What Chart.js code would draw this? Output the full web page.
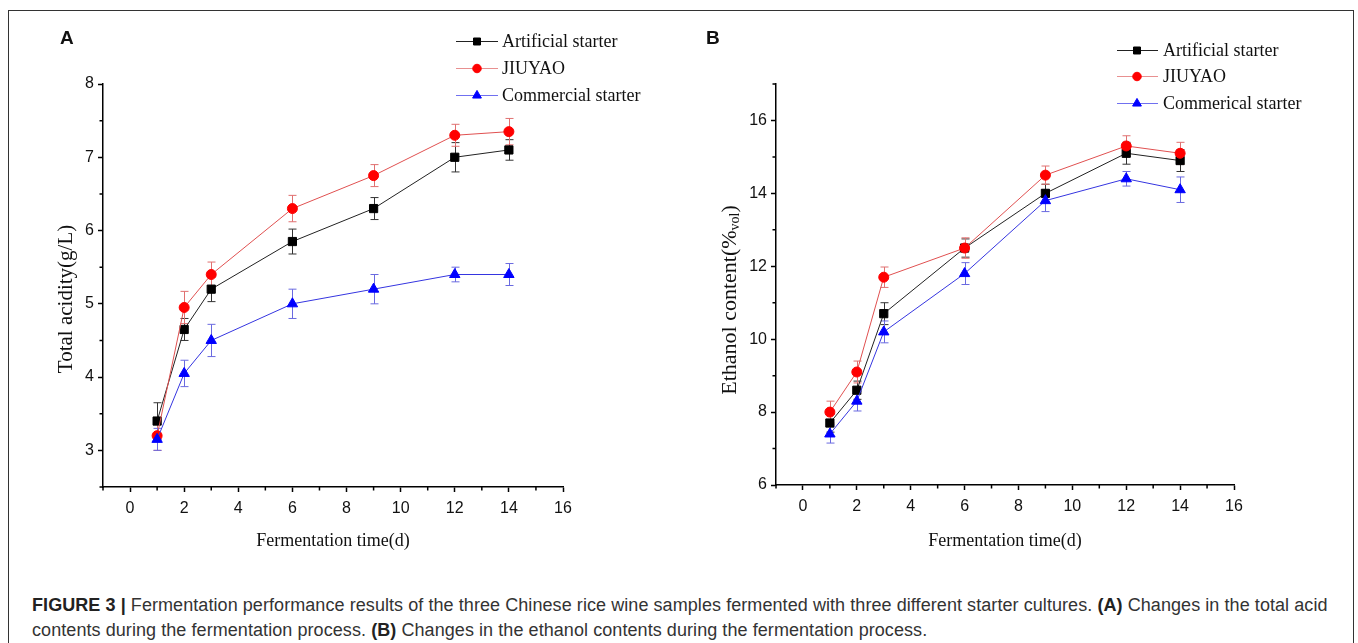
<!DOCTYPE html>
<html>
<head>
<meta charset="utf-8">
<script src="https://cdn.jsdelivr.net/npm/chart.js@4.4.0/dist/chart.umd.min.js"></script>
<style>
  body { margin: 0; background: #fff; width: 1358px; height: 643px; overflow: hidden; position: relative; font-family: 'Liberation Sans', Arial, sans-serif; }
  #frame { position: absolute; left: 8px; top: 10px; width: 1344px; height: 700px; border: 1px solid #333; }
  canvas { position: absolute; top: 0; }
  #cA { left: 0; }
  #cB { left: 679px; }
  .letter { position: absolute; top: 27px; font: bold 19px 'Liberation Sans', Arial, sans-serif; color: #111; }
  #caption { position: absolute; left: 32px; top: 593px; width: 1318px; font-size: 18px; line-height: 25px; letter-spacing: 0.07px; color: #333; white-space: nowrap; }
  #caption b { color: #222; }
</style>
</head>
<body>
<div id="frame"></div>
<canvas id="cA" width="679" height="560"></canvas>
<canvas id="cB" width="679" height="560"></canvas>
<div class="letter" style="left:60px">A</div>
<div class="letter" style="left:706px">B</div>
<div id="caption"><b>FIGURE 3 |</b> Fermentation performance results of the three Chinese rice wine samples fermented with three different starter cultures. <b>(A)</b> Changes in the total acid<br>contents during the fermentation process. <b>(B)</b> Changes in the ethanol contents during the fermentation process.</div>

<script>
// --- Daten ---
const days = [1, 2, 3, 6, 9, 12, 14];
const namesA = ['Artificial starter', 'JIUYAO', 'Commercial starter'];
const namesB = ['Artificial starter', 'JIUYAO', 'Commerical starter'];

// Gesamtsäure (g/L)
const acidArtificial = [3.4, 4.65, 5.2, 5.85, 6.3, 7.0, 7.1];
const acidArtificialErr = [0.25, 0.15, 0.17, 0.17, 0.15, 0.2, 0.14];
const acidJiuyao = [3.2, 4.95, 5.4, 6.3, 6.75, 7.3, 7.35];
const acidJiuyaoErr = [0.2, 0.22, 0.17, 0.18, 0.15, 0.15, 0.18];
const acidCommercial = [3.15, 4.05, 4.5, 5.0, 5.2, 5.4, 5.4];
const acidCommercialErr = [0.15, 0.18, 0.22, 0.2, 0.2, 0.1, 0.15];

// Ethanolgehalt (%vol)
const ethArtificial = [7.7, 8.6, 10.7, 12.5, 14.0, 15.1, 14.9];
const ethArtificialErr = [0.25, 0.25, 0.3, 0.25, 0.25, 0.3, 0.3];
const ethJiuyao = [8.0, 9.1, 11.7, 12.5, 14.5, 15.3, 15.1];
const ethJiuyaoErr = [0.3, 0.3, 0.28, 0.28, 0.25, 0.28, 0.3];
const ethCommercial = [7.4, 8.3, 10.2, 11.8, 13.8, 14.4, 14.1];
const ethCommercialErr = [0.25, 0.27, 0.3, 0.3, 0.3, 0.2, 0.35];

// Achsenbeschriftung
const xTicks = [0, 2, 4, 6, 8, 10, 12, 14, 16];
const xMinor = [-1, 1, 3, 5, 7, 9, 11, 13, 15];
const yTicksA = [3, 4, 5, 6, 7, 8];
const yMinorA = [2.5, 3.5, 4.5, 5.5, 6.5, 7.5];
const yTicksB = [6, 8, 10, 12, 14, 16];
const yMinorB = [7, 9, 11, 13, 15, 17];

// --- Stile ---
const styles = [
    { line: '#222222', fill: '#000000', err: '#333333', legendLine: '#222222', shape: 'rect', r: 5.8, order: 2 },
    { line: '#e05050', fill: '#ff0000', err: '#e07070', legendLine: '#e89090', shape: 'circle', r: 5, order: 1 },
    { line: '#3535e0', fill: '#0000ff', err: '#6a6ae0', legendLine: '#7070f0', shape: 'triangle', r: 6, order: 0 }
];

const tickFont = { family: "'Liberation Sans Narrow', 'Arial Narrow', 'Liberation Sans', Arial, sans-serif", size: 16 };
const serif = "'Liberation Serif', 'Times New Roman', serif";

function makeDataset(label, values, errors, i) {
    const s = styles[i];
    return {
        label: label,
        data: days.map((d, j) => ({ x: d, y: values[j] })),
        errors: errors,
        errColor: s.err,
        legendLine: s.legendLine,
        borderColor: s.line,
        backgroundColor: s.fill,
        pointBackgroundColor: s.fill,
        pointBorderColor: s.fill,
        pointStyle: s.shape,
        pointRadius: s.r,
        pointBorderWidth: 1,
        borderWidth: 1,
        order: s.order,
        tension: 0
    };
}

// Fehlerbalken, Nebenstriche, Achsentitel, Legende
const figurePlugin = {
    id: 'figure',
    beforeDatasetsDraw(chart) {
        const ctx = chart.ctx;
        const xs = chart.scales.x, ys = chart.scales.y;
        ctx.save();
        ctx.lineWidth = 1;
        chart.data.datasets.forEach(ds => {
            ctx.strokeStyle = ds.errColor;
            ds.data.forEach((p, j) => {
                const px = Math.round(xs.getPixelForValue(p.x)) + 0.5;
                const top = ys.getPixelForValue(p.y + ds.errors[j]);
                const bot = ys.getPixelForValue(p.y - ds.errors[j]);
                ctx.beginPath();
                ctx.moveTo(px, top); ctx.lineTo(px, bot);
                ctx.moveTo(px - 4, top); ctx.lineTo(px + 4, top);
                ctx.moveTo(px - 4, bot); ctx.lineTo(px + 4, bot);
                ctx.stroke();
            });
        });
        ctx.restore();
    },
    afterDraw(chart) {
        const ctx = chart.ctx;
        const o = chart.options.plugins.figure;
        const xs = chart.scales.x, ys = chart.scales.y;
        const area = chart.chartArea;
        ctx.save();
        ctx.strokeStyle = '#000';
        ctx.lineWidth = 1.5;
        ctx.beginPath();
        o.xMinor.forEach(v => {
            const px = xs.getPixelForValue(v);
            ctx.moveTo(px, area.bottom); ctx.lineTo(px, area.bottom + 3.5);
        });
        o.yMinor.forEach(v => {
            const py = ys.getPixelForValue(v);
            ctx.moveTo(area.left - 3.5, py); ctx.lineTo(area.left, py);
        });
        ctx.stroke();

        // y-Titel (gedreht, ggf. mit Index)
        ctx.translate(o.yTitle.x, o.yTitle.y);
        ctx.rotate(-Math.PI / 2);
        ctx.fillStyle = '#111';
        ctx.textBaseline = 'middle';
        ctx.textAlign = 'left';
        const mainFont = o.yTitle.size + 'px ' + serif;
        const subFont = Math.round(o.yTitle.size * 0.62) + 'px ' + serif;
        ctx.font = mainFont;
        const w1 = ctx.measureText(o.yTitle.text).width;
        const w3 = o.yTitle.after ? ctx.measureText(o.yTitle.after).width : 0;
        ctx.font = subFont;
        const w2 = o.yTitle.sub ? ctx.measureText(o.yTitle.sub).width : 0;
        let cx = -(w1 + w2 + w3) / 2;
        ctx.font = mainFont;
        ctx.fillText(o.yTitle.text, cx, 0);
        cx += w1;
        if (o.yTitle.sub) {
            ctx.font = subFont;
            ctx.fillText(o.yTitle.sub, cx, 5);
            cx += w2;
            ctx.font = mainFont;
            ctx.fillText(o.yTitle.after, cx, 0);
        }
        ctx.restore();

        // Legende
        ctx.save();
        ctx.font = '18px ' + serif;
        ctx.textBaseline = 'middle';
        chart.data.datasets.forEach((ds, i) => {
            const L = o.legend;
            const y = L.rows[i];
            ctx.strokeStyle = ds.legendLine;
            ctx.lineWidth = 1;
            ctx.beginPath();
            ctx.moveTo(L.x0, y + 0.5); ctx.lineTo(L.x1, y + 0.5);
            ctx.stroke();
            ctx.fillStyle = ds.pointBackgroundColor;
            ctx.strokeStyle = ds.pointBackgroundColor;
            Chart.helpers.drawPoint(ctx, { pointStyle: ds.pointStyle, radius: ds.pointRadius * 0.85, rotation: 0, borderWidth: 1 }, L.xm, y + 0.5);
            ctx.fillStyle = '#111';
            ctx.fillText(ds.label, L.xt, y + 1);
        });
        ctx.restore();
    }
};

function makeChart(id, datasets, cfg) {
    return new Chart(document.getElementById(id), {
        type: 'line',
        data: { datasets: datasets },
        options: {
            responsive: false,
            animation: false,
            events: [],
            layout: { padding: { left: 0, top: cfg.top, right: cfg.right, bottom: 0 } },
            plugins: {
                legend: { display: false },
                tooltip: { enabled: false },
                figure: cfg.figure
            },
            scales: {
                x: {
                    type: 'linear',
                    min: -1, max: 16,
                    afterBuildTicks: s => { s.ticks = xTicks.map(v => ({ value: v })); },
                    afterFit: s => { s.height = cfg.xHeight; },
                    grid: { drawOnChartArea: false, drawTicks: true, tickLength: 5, tickWidth: 1.5, tickColor: '#000' },
                    border: { display: true, color: '#000', width: 1.5 },
                    ticks: { font: tickFont, color: '#111', padding: 7, maxRotation: 0 },
                    title: {
                        display: true, text: 'Fermentation time(d)', color: '#111',
                        font: { family: serif, size: 18 }, padding: { top: 4, bottom: cfg.xTitlePad }
                    }
                },
                y: {
                    type: 'linear',
                    min: cfg.yMin, max: cfg.yMax,
                    afterBuildTicks: s => { s.ticks = cfg.yTicks.map(v => ({ value: v })); },
                    afterFit: s => { s.width = cfg.yWidth; },
                    grid: { drawOnChartArea: false, drawTicks: true, tickLength: 5, tickWidth: 1.5, tickColor: '#000' },
                    border: { display: true, color: '#000', width: 1.5 },
                    ticks: { font: tickFont, color: '#111', padding: 4 }
                }
            }
        },
        plugins: [figurePlugin]
    });
}

makeChart('cA', [
    makeDataset(namesA[0], acidArtificial, acidArtificialErr, 0),
    makeDataset(namesA[1], acidJiuyao, acidJiuyaoErr, 1),
    makeDataset(namesA[2], acidCommercial, acidCommercialErr, 2)
], {
    top: 84, right: 116, xHeight: 73, yWidth: 103, xTitlePad: 8,
    yMin: 2.5, yMax: 8, yTicks: yTicksA,
    figure: {
        xMinor: xMinor, yMinor: yMinorA,
        yTitle: { text: 'Total acidity(g/L)', x: 66, y: 299, size: 21 },
        legend: { x0: 456, x1: 498, xm: 477, xt: 502, rows: [41, 68, 95] }
    }
});

makeChart('cB', [
    makeDataset(namesB[0], ethArtificial, ethArtificialErr, 0),
    makeDataset(namesB[1], ethJiuyao, ethJiuyaoErr, 1),
    makeDataset(namesB[2], ethCommercial, ethCommercialErr, 2)
], {
    top: 84, right: 124, xHeight: 75, yWidth: 97, xTitlePad: 8,
    yMin: 6, yMax: 17, yTicks: yTicksB,
    figure: {
        xMinor: xMinor, yMinor: yMinorB,
        yTitle: { text: 'Ethanol content(%', sub: 'vol', after: ')', x: 51, y: 300, size: 22 },
        legend: { x0: 438, x1: 479, xm: 458, xt: 484, rows: [50, 76, 103] }
    }
});
</script>
</body>
</html>
